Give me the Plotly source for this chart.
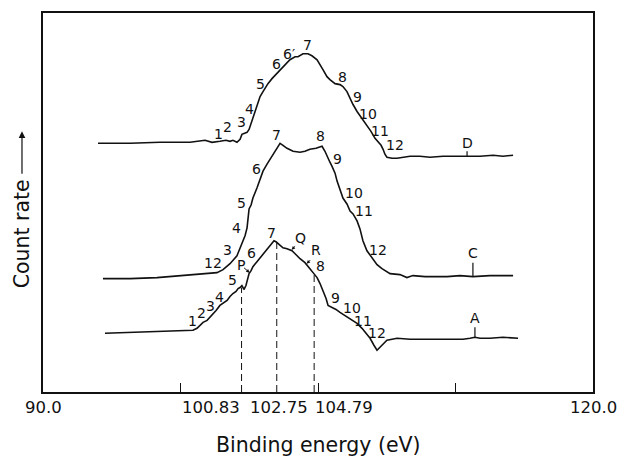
import plotly.graph_objects as go

# ---------------- data (binding energy in eV, count rate in arbitrary units) -------------
d_energy = [93.00, 94.75, 96.38, 98.02, 98.84, 99.22, 99.65, 99.98, 100.20, 100.36, 100.58,
            100.75, 100.85, 101.13, 101.24, 101.35, 101.51, 101.67, 101.84, 102.00, 102.27,
            102.49, 102.76, 102.98, 103.09, 103.25, 103.47, 103.75, 103.91, 104.18, 104.45,
            104.67, 104.95, 105.27, 105.49, 105.65, 105.93, 106.20, 106.36, 106.58, 106.80,
            106.91, 107.13, 107.29, 107.45, 107.67, 107.89, 108.11, 108.27, 108.44, 108.55,
            108.65, 108.76, 109.04, 109.31, 109.64, 110.02, 110.56, 111.11, 111.82, 112.47,
            113.13, 113.84, 114.55, 115.09, 115.64]
d_counts = [249, 249, 250, 250, 252, 250, 251, 252, 251, 252, 250,
            253, 258, 260, 263, 269, 278, 288, 296, 301, 309,
            314, 319, 323, 326, 328, 333, 336, 336, 339, 339,
            337, 333, 323, 316, 313, 309, 308, 306, 301, 291,
            288, 281, 277, 272, 267, 261, 254, 251, 247, 243,
            238, 235, 234, 234, 235, 236, 236, 235, 236, 236,
            236, 236, 237, 236, 237]

c_energy = [93.27, 94.75, 96.22, 97.47, 98.56, 99.11, 99.49, 99.82, 100.20, 100.58, 100.85,
            101.02, 101.13, 101.18, 101.24, 101.35, 101.45, 101.67, 101.84, 102.00, 102.22,
            102.38, 102.60, 102.76, 102.93, 103.09, 103.31, 103.64, 104.02, 104.29, 104.56,
            104.89, 105.22, 105.38, 105.49, 105.65, 105.76, 105.82, 105.93, 106.04, 106.20,
            106.36, 106.58, 106.75, 106.91, 107.13, 107.29, 107.45, 107.67, 107.84, 108.05,
            108.22, 108.49, 108.93, 109.47, 109.75, 109.85, 110.02, 110.18, 110.84, 112.04,
            112.75, 113.45, 114.38, 115.64]
c_counts = [113, 113, 114, 116, 118, 119, 119, 122, 128, 136, 148,
            156, 164, 176, 183, 187, 194, 204, 213, 221, 228,
            233, 239, 244, 249, 247, 244, 241, 240, 241, 243,
            244, 246, 241, 236, 230, 226, 223, 219, 211, 203,
            194, 188, 181, 178, 171, 163, 151, 141, 137, 132,
            127, 123, 118, 117, 115, 114, 115, 116, 115, 115,
            116, 115, 116, 116]

a_energy = [93.38, 94.75, 96.22, 97.47, 98.18, 98.40, 98.56, 98.73, 98.95, 99.11, 99.27,
            99.44, 99.65, 99.82, 100.04, 100.20, 100.36, 100.53, 100.64, 100.75, 100.85,
            100.91, 100.96, 101.07, 101.13, 101.24, 101.35, 101.45, 101.67, 101.84, 102.00,
            102.16, 102.33, 102.44, 102.60, 102.71, 102.82, 102.93, 103.09, 103.31, 103.58,
            103.75, 103.85, 104.02, 104.29, 104.45, 104.56, 104.73, 104.95, 105.11, 105.27,
            105.44, 105.55, 105.76, 105.98, 106.20, 106.47, 106.75, 107.13, 107.40, 107.62,
            107.84, 108.05, 108.22, 108.38, 108.55, 108.76, 109.04, 109.31, 110.02, 111.11,
            111.93, 112.91, 113.29, 113.56, 113.84, 114.38, 115.09, 115.91]
a_counts = [58, 59, 60, 61, 61, 63, 66, 69, 71, 74, 78,
            81, 86, 88, 91, 95, 98, 100, 103, 104, 106,
            104, 102, 106, 111, 118, 121, 125, 130, 134, 137,
            141, 145, 148, 151, 150, 148, 146, 144, 143, 141,
            138, 136, 133, 129, 126, 123, 119, 114, 108, 101,
            93, 86, 84, 82, 79, 76, 73, 68, 63, 58,
            53, 46, 41, 44, 47, 51, 52, 53, 52, 52,
            52, 52, 53, 54, 53, 53, 54, 53]

# marked energies (dashed drop lines) and the count at which each drop line starts
marked_energy = [100.83, 102.75, 104.79]
marked_top = [104, 150, 118]

# x-axis labels and where they are written
axis_labels = ["90.0", "100.83", "102.75", "104.79", "120.0"]
axis_label_pos = [90.0, 99.16, 102.85, 106.42, 120.0]
minor_ticks = [97.5, 105, 112.5]

# curve identifiers with their small marker ticks: (label, energy, tick bottom, tick top, label count)
curve_ids = [("D", 113.13, 236, 241, 249), ("C", 113.45, 115, 129, 139), ("A", 113.56, 54, 64, 73)]

# peak number labels: (text, energy, count)
d_labels = [("1", 99.55, 258), ("2", 100.09, 265), ("3", 100.80, 270), ("4", 101.29, 284),
            ("5", 101.89, 309), ("6", 102.71, 329), ("6\u2032", 103.42, 339), ("7", 104.40, 348),
            ("8", 106.36, 316), ("9", 107.13, 296), ("10", 107.73, 278), ("11", 108.38, 261),
            ("12", 109.20, 247)]
c_labels = [("12", 99.27, 129), ("3", 100.04, 142), ("4", 100.58, 164), ("5", 100.85, 189),
            ("6", 101.67, 223), ("7", 102.76, 257), ("8", 105.16, 256), ("9", 106.09, 233),
            ("10", 106.96, 199), ("11", 107.51, 181), ("12", 108.27, 142)]
a_labels = [("1", 98.18, 70), ("2", 98.62, 78), ("3", 99.11, 85), ("4", 99.60, 95),
            ("5", 100.36, 112), ("P", 100.80, 127), ("6", 101.35, 139), ("7", 102.49, 159),
            ("Q", 104.02, 154), ("R", 104.89, 142), ("8", 105.11, 126), ("9", 105.93, 94),
            ("10", 106.85, 83), ("11", 107.45, 70), ("12", 108.22, 58)]

# arrow targets for P, Q, R: (energy, count, ax, ay)
pqr_arrows = [(101.27, 119, -7, -6), (103.56, 142, 5, -5), (104.38, 128, 5, -5)]

FONT = "DejaVu Sans, Verdana, sans-serif"
BLACK = "#111111"

fig = go.Figure()
line_style = dict(color=BLACK, width=1.6)
for xs, ys in [(d_energy, d_counts), (c_energy, c_counts), (a_energy, a_counts)]:
    fig.add_trace(go.Scatter(x=xs, y=ys, mode="lines", line=line_style,
                             showlegend=False, hoverinfo="skip"))

for e, top in zip(marked_energy, marked_top):
    fig.add_trace(go.Scatter(x=[e, e], y=[-1, top], mode="lines",
                             line=dict(color=BLACK, width=1, dash="7px,4px"),
                             showlegend=False, hoverinfo="skip"))

for name, e, y0, y1, yl in curve_ids:
    fig.add_trace(go.Scatter(x=[e, e], y=[y0, y1], mode="lines",
                             line=dict(color=BLACK, width=1.2),
                             showlegend=False, hoverinfo="skip"))

annotations = []
for txt, e, c in d_labels + c_labels + a_labels:
    annotations.append(dict(x=e, y=c, xref="x", yref="y", text=txt, showarrow=False,
                            font=dict(family=FONT, size=14, color=BLACK),
                            xanchor="center", yanchor="middle"))
for name, e, y0, y1, yl in curve_ids:
    annotations.append(dict(x=e, y=yl, xref="x", yref="y", text=name, showarrow=False,
                            font=dict(family=FONT, size=14, color=BLACK),
                            xanchor="center", yanchor="middle"))
for e, c, ax, ay in pqr_arrows:
    annotations.append(dict(x=e, y=c, xref="x", yref="y", text="", showarrow=True,
                            ax=ax, ay=ay, arrowhead=2, arrowsize=0.7, arrowwidth=1,
                            arrowcolor=BLACK))
for lab, pos in zip(axis_labels, axis_label_pos):
    annotations.append(dict(x=pos, y=-0.040, xref="x", yref="paper", text=lab,
                            showarrow=False, font=dict(family=FONT, size=16.5, color=BLACK),
                            xanchor="center", yanchor="middle"))
annotations.append(dict(x=0.5, y=-0.139, xref="paper", yref="paper",
                        text="Binding energy (eV)", showarrow=False,
                        font=dict(family=FONT, size=20.5, color=BLACK),
                        xanchor="center", yanchor="middle"))
annotations.append(dict(x=-0.0382, y=0.4186, xref="paper", yref="paper", text="Count rate",
                        textangle=-90, showarrow=False,
                        font=dict(family=FONT, size=20.5, color=BLACK),
                        xanchor="center", yanchor="middle"))
annotations.append(dict(x=-0.0382, y=0.6877, xref="paper", yref="paper", text="",
                        showarrow=True, ax=0, ay=44, arrowhead=2, arrowsize=1.1,
                        arrowwidth=1.2, arrowcolor=BLACK))

fig.update_layout(
    width=621, height=457,
    margin=dict(l=43, r=28, t=11, b=65),
    paper_bgcolor="white", plot_bgcolor="white",
    font=dict(family=FONT, color=BLACK),
    annotations=annotations,
    xaxis=dict(range=[90, 120], showgrid=False, zeroline=False,
               showline=True, mirror=True, linecolor=BLACK, linewidth=1.5,
               ticks="inside", ticklen=9, tickwidth=1.2, tickcolor=BLACK,
               tickvals=minor_ticks, showticklabels=False),
    yaxis=dict(range=[-1, 380], showgrid=False, zeroline=False,
               showline=True, mirror=True, linecolor=BLACK, linewidth=1.5,
               showticklabels=False, ticks=""),
)

fig.write_html("out.html")
